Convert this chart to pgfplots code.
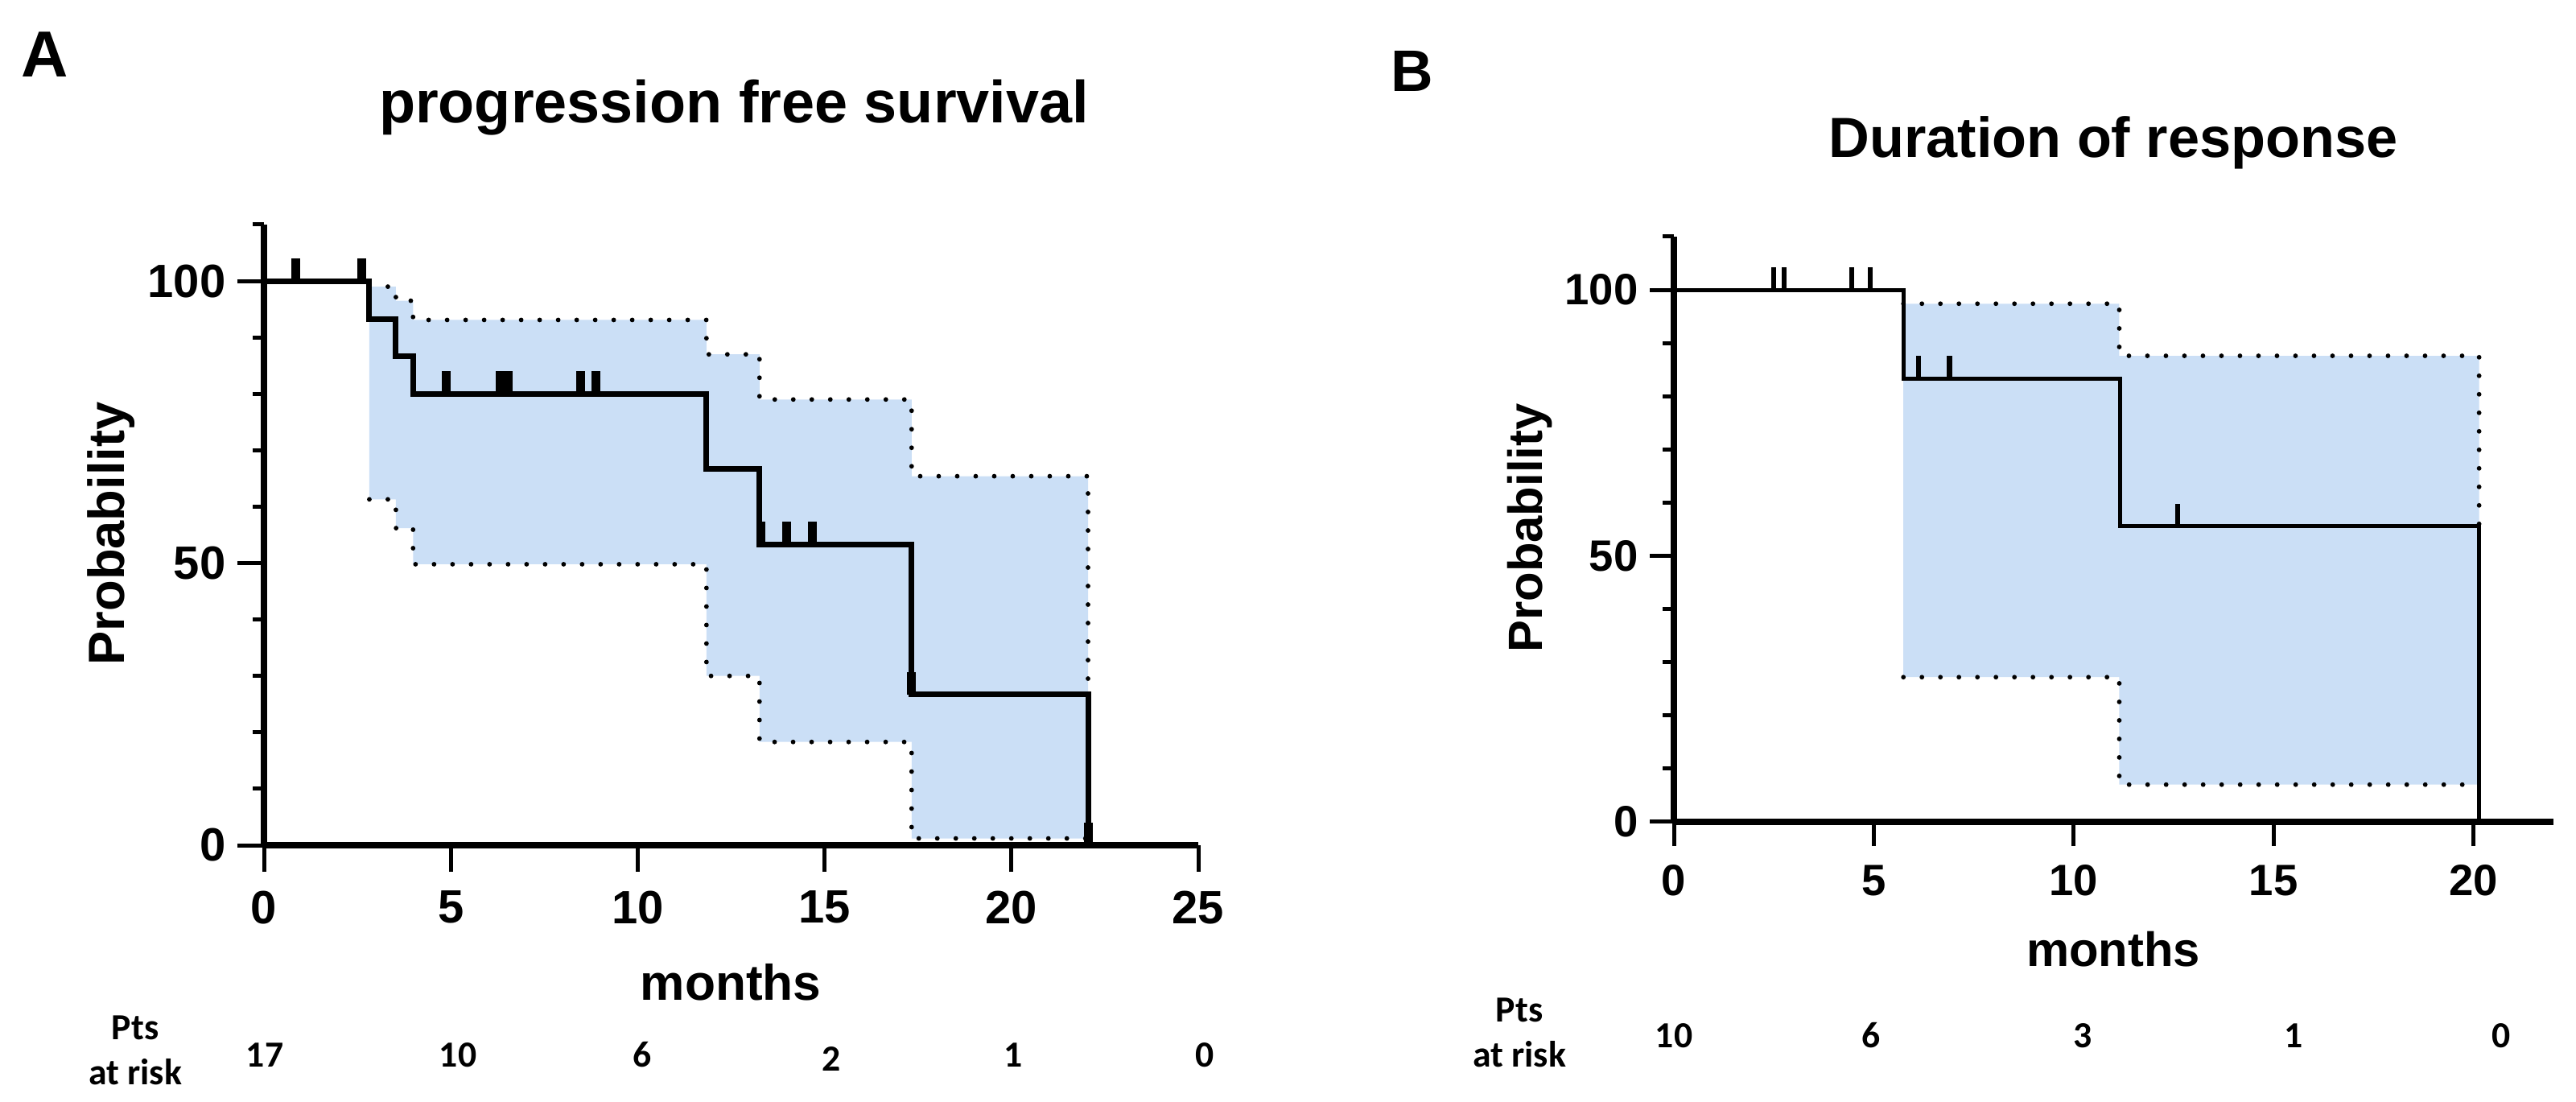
\documentclass[border=0pt]{standalone}
\usepackage{fontspec}
\setmainfont{Liberation Sans}
\newfontfamily\calibri{Carlito}
\usepackage{pgfplots}
\pgfplotsset{compat=1.18}

\definecolor{cishade}{RGB}{203,223,246}

% censor mark: short stroke going up from the curve
\pgfdeclareplotmark{cens}{%
  \pgfpathmoveto{\pgfqpoint{0pt}{0pt}}%
  \pgfpathlineto{\pgfqpoint{0pt}{0.28cm}}%
  \pgfusepathqstroke}

\pgfplotsset{
  km/.style={
    scale only axis, anchor=south west, clip=false,
    xmin=0, ymin=0, ymax=110,
    axis x line=bottom, axis y line=left,
    axis line style={-, line width=0.08cm},
    tick align=outside,
    major tick style={black, line width=0.05cm},
    minor tick style={black, line width=0.05cm},
    ytick={0,50,100},
    minor ytick={10,20,30,40,60,70,80,90,110},
    minor tick length=0.14cm,
    /pgf/number format/assume math mode=true,
    xticklabel style={anchor=north, inner sep=0pt, yshift=-0.23cm},
    yticklabel style={anchor=east, inner sep=0pt, xshift=-0.14cm},
  },
  ci/.style={const plot, black, line width=0.058cm, line cap=round,
    dash pattern=on 0pt off 0.23cm},
}

\begin{document}
\begin{tikzpicture}
\path[use as bounding box] (0,0) rectangle (32.01,13.68);

% ---- A: progression free survival
\begin{axis}[km, at={(3.28cm,3.18cm)}, width=11.61cm, height=7.71cm,
  xmax=25, xtick={0,5,...,25}, major tick length=0.33cm,
  tick label style={font=\fontsize{16.5}{18}\selectfont\bfseries}]
\addplot[fill=cishade, draw=none] coordinates {
  (2.82,99) (3.53,99) (3.53,96.5) (3.99,96.5) (3.99,93.1) (11.84,93.1)
  (11.84,87.0) (13.26,87.0) (13.26,79.0) (17.33,79.0) (17.33,65.4) (22.05,65.4)
  (22.05,1.2) (17.33,1.2) (17.33,18.3) (13.26,18.3) (13.26,30.0) (11.84,30.0)
  (11.84,49.8) (3.99,49.8) (3.99,56.2) (3.53,56.2) (3.53,61.3) (2.82,61.3)};
\addplot[ci] coordinates {
  (2.82,99) (3.53,96.5) (3.99,93.1) (11.84,87.0) (13.26,79.0) (17.33,65.4) (22.05,26.7)};
\addplot[ci] coordinates {
  (2.82,61.3) (3.53,56.2) (3.99,49.8) (11.84,30.0) (13.26,18.3) (17.33,1.2) (22.05,1.2)};
\addplot[const plot, black, line width=0.07cm] coordinates {
  (0,100) (2.82,93.3) (3.53,86.7) (3.99,80) (11.84,66.7) (13.26,53.3) (17.33,26.7) (22.05,0)};
\addplot[only marks, mark=cens, mark options={black, line width=0.11cm}] coordinates {
  (0.85,100) (2.62,100) (4.88,80) (6.31,80) (6.54,80) (8.48,80) (8.89,80)
  (13.3,53.3) (13.99,53.3) (14.68,53.3) (17.33,26.7) (22.05,0)};
\end{axis}

% ---- B: duration of response
\begin{axis}[km, at={(20.80cm,3.47cm)}, width=10.93cm, height=7.27cm,
  xmax=22, xtick={0,5,...,20}, major tick length=0.30cm,
  tick label style={font=\fontsize{15.5}{17}\selectfont\bfseries}]
\addplot[fill=cishade, draw=none] coordinates {
  (5.74,97.4) (11.14,97.4) (11.14,87.6) (20.14,87.6)
  (20.14,7.0) (11.14,7.0) (11.14,27.2) (5.74,27.2)};
\addplot[ci] coordinates {(5.74,97.4) (11.14,87.6) (20.14,55.6)};
\addplot[ci] coordinates {(5.74,27.2) (11.14,7.0) (20.14,7.0)};
\addplot[const plot, black, line width=0.05cm] coordinates {
  (0,100) (5.74,83.3) (11.16,55.6) (20.14,0)};
\addplot[only marks, mark=cens, mark options={black, line width=0.065cm}] coordinates {
  (2.50,100) (2.76,100) (4.45,100) (4.91,100) (6.12,83.3) (6.89,83.3) (12.6,55.6)};
\end{axis}

% ---- titles, labels, panel letters
\node[anchor=base west, inner sep=0pt, font=\fontsize{23}{26}\selectfont\bfseries] at (0.26,12.72) {A};
\node[anchor=base west, inner sep=0pt, font=\fontsize{20.7}{24}\selectfont\bfseries] at (17.28,12.54) {B};
\node[anchor=base, inner sep=0pt, font=\fontsize{21}{25}\selectfont\bfseries] at (9.12,12.15) {progression free survival};
\node[anchor=base, inner sep=0pt, font=\fontsize{20}{24}\selectfont\bfseries] at (26.26,11.72) {Duration of response};
\node[anchor=base, inner sep=0pt, font=\fontsize{17.7}{20}\selectfont\bfseries] at (9.08,1.26) {months};
\node[anchor=base, inner sep=0pt, font=\fontsize{17}{20}\selectfont\bfseries] at (26.26,1.68) {months};
\node[anchor=base, rotate=90, inner sep=0pt, font=\fontsize{18}{21}\selectfont\bfseries] at (1.55,7.05) {Probability};
\node[anchor=base, rotate=90, inner sep=0pt, font=\fontsize{17}{20}\selectfont\bfseries] at (19.16,7.12) {Probability};

% ---- patients at risk
\begin{scope}[every node/.style={anchor=base, inner sep=0pt, font=\calibri\bfseries\fontsize{13}{15}\selectfont}]
\node at (1.68,0.77) {Pts};
\node at (1.68,0.21) {at risk};
\node at (3.29,0.43) {17};
\node at (5.69,0.43) {10};
\node at (7.98,0.43) {6};
\node at (10.33,0.38) {2};
\node at (12.59,0.43) {1};
\node at (14.97,0.43) {0};
\node at (18.88,0.99) {Pts};
\node at (18.88,0.43) {at risk};
\node at (20.80,0.67) {10};
\node at (23.25,0.67) {6};
\node at (25.88,0.67) {3};
\node at (28.50,0.67) {1};
\node at (31.08,0.67) {0};
\end{scope}
\end{tikzpicture}
\end{document}
